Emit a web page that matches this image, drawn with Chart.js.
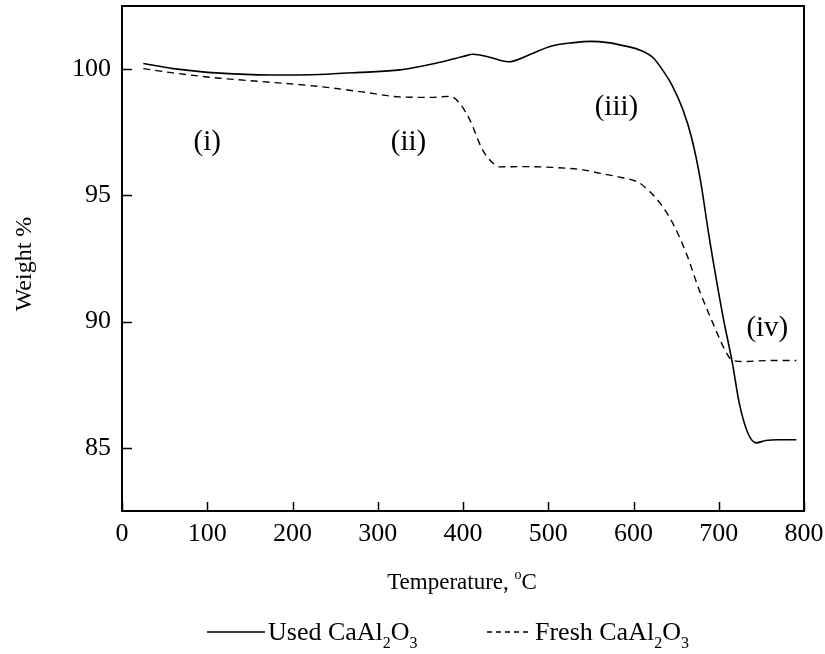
<!DOCTYPE html>
<html>
<head>
<meta charset="utf-8">
<script src="https://cdn.jsdelivr.net/npm/chart.js@4.4.0/dist/chart.umd.min.js"></script>
<style>
  html, body { margin: 0; padding: 0; background: #fff; }
  #wrap { width: 825px; height: 654px; }
</style>
</head>
<body>
<div id="wrap"><canvas id="tga" width="825" height="654"></canvas></div>
<script>
// TGA curves (temperature in C, weight in %)
var usedTemp   = [25, 60, 115, 174, 232, 279, 326, 370, 400, 412, 430, 453, 480, 502, 530, 550, 570, 584, 607, 623, 634, 646, 658, 668, 678, 689, 705, 716, 724, 734, 744, 755, 770, 791];
var usedWeight = [100.22, 100.02, 99.84, 99.77, 99.79, 99.87, 99.97, 100.25, 100.5, 100.59, 100.48, 100.29, 100.6, 100.9, 101.05, 101.1, 101.05, 100.96, 100.76, 100.45, 99.97, 99.31, 98.39, 97.3, 95.7, 93.3, 90.2, 88.36, 86.78, 85.6, 85.2, 85.29, 85.32, 85.32];

var freshTemp   = [25, 60, 115, 174, 232, 279, 326, 360, 385, 396, 408, 423, 435, 443, 470, 510, 541, 560, 580, 607, 619, 631, 646, 662, 677, 693, 709, 715, 728, 760, 791];
var freshWeight = [100.02, 99.85, 99.64, 99.48, 99.31, 99.11, 98.9, 98.88, 98.92, 98.65, 97.99, 96.8, 96.28, 96.13, 96.14, 96.1, 96.01, 95.88, 95.75, 95.49, 95.15, 94.7, 93.9, 92.7, 91.26, 89.95, 88.76, 88.49, 88.42, 88.46, 88.46];

var xTicks = [0, 100, 200, 300, 400, 500, 600, 700, 800];
var yTicks = [85, 90, 95, 100];

// region labels
var regionText = ["(i)", "(ii)", "(iii)", "(iv)"];
var regionTemp = [100, 336, 580, 757];
var regionWeight = [97.08, 97.08, 98.5, 89.74];

var serif = "'Liberation Serif', 'Times New Roman', serif";

function pts(xs, ys) {
  var out = [];
  for (var i = 0; i < xs.length; i++) out.push({x: xs[i], y: ys[i]});
  return out;
}

// text with sub/superscripts: parts = [[text, kind]], kind 0 normal, 1 sub, 2 sup
function drawRich(ctx, parts, x, y, size) {
  var small = Math.round(size * 0.62);
  for (var i = 0; i < parts.length; i++) {
    var t = parts[i][0], k = parts[i][1];
    if (k == 0) {
      ctx.font = size + "px " + serif;
      ctx.fillText(t, x, y);
    } else if (k == 1) {
      ctx.font = small + "px " + serif;
      ctx.fillText(t, x, y + size * 0.3);
    } else {
      ctx.font = small + "px " + serif;
      ctx.fillText(t, x, y - size * 0.45);
    }
    x += ctx.measureText(t).width;
  }
  return x;
}

var decorations = {
  id: 'decorations',
  afterDraw: function(chart) {
    var ctx = chart.ctx, a = chart.chartArea;
    var xs = chart.scales.x, ys = chart.scales.y;
    ctx.save();
    ctx.strokeStyle = '#000';
    ctx.fillStyle = '#000';
    ctx.lineWidth = 2;
    ctx.strokeRect(a.left, a.top, a.right - a.left, a.bottom - a.top);

    // inward tick marks
    ctx.beginPath();
    xTicks.forEach(function(v) {
      var px = Math.round(xs.getPixelForValue(v)) + 0.5;
      ctx.moveTo(px, a.bottom);
      ctx.lineTo(px, a.bottom - 9);
    });
    yTicks.forEach(function(v) {
      var py = Math.round(ys.getPixelForValue(v)) + 0.5;
      ctx.moveTo(a.left, py);
      ctx.lineTo(a.left + 10, py);
    });
    ctx.lineWidth = 1.5;
    ctx.stroke();

    // region labels
    ctx.font = "29px " + serif;
    ctx.textAlign = 'center';
    ctx.textBaseline = 'middle';
    for (var i = 0; i < regionText.length; i++) {
      ctx.fillText(regionText[i], xs.getPixelForValue(regionTemp[i]), ys.getPixelForValue(regionWeight[i]));
    }

    // y title
    ctx.save();
    ctx.translate(25, 264);
    ctx.rotate(-Math.PI / 2);
    ctx.font = "24px " + serif;
    ctx.fillText("Weight %", 0, 0);
    ctx.restore();

    // x title
    ctx.textAlign = 'left';
    ctx.textBaseline = 'alphabetic';
    var xt = [["Temperature, ", 0], ["o", 2], ["C", 0]];
    var w = 0;
    xt.forEach(function(p) {
      ctx.font = (p[1] ? Math.round(23 * 0.62) : 23) + "px " + serif;
      w += ctx.measureText(p[0]).width;
    });
    drawRich(ctx, xt, 462 - w / 2, 589, 23);

    // legend
    ctx.lineWidth = 1.5;
    ctx.beginPath();
    ctx.moveTo(207, 632);
    ctx.lineTo(265, 632);
    ctx.stroke();
    drawRich(ctx, [["Used CaAl", 0], ["2", 1], ["O", 0], ["3", 1]], 268, 640, 26);
    ctx.setLineDash([5, 4]);
    ctx.beginPath();
    ctx.moveTo(487, 632);
    ctx.lineTo(530, 632);
    ctx.stroke();
    ctx.setLineDash([]);
    drawRich(ctx, [["Fresh CaAl", 0], ["2", 1], ["O", 0], ["3", 1]], 535, 640, 26);
    ctx.restore();
  }
};

function noMargins(s) {
  s.paddingTop = 0; s.paddingBottom = 0; s.paddingLeft = 0; s.paddingRight = 0;
}

var chart = new Chart(document.getElementById('tga').getContext('2d'), {
  type: 'line',
  data: {
    datasets: [{
      label: 'Used CaAl2O3',
      data: pts(usedTemp, usedWeight),
      borderColor: '#000',
      borderWidth: 1.6,
      pointRadius: 0,
      cubicInterpolationMode: 'monotone',
      fill: false
    }, {
      label: 'Fresh CaAl2O3',
      data: pts(freshTemp, freshWeight),
      borderColor: '#000',
      borderWidth: 1.4,
      borderDash: [7, 5],
      pointRadius: 0,
      cubicInterpolationMode: 'monotone',
      fill: false
    }]
  },
  options: {
    responsive: false,
    animation: false,
    layout: { padding: { top: 6, right: 21, left: 0, bottom: 0 } },
    plugins: { legend: { display: false }, tooltip: { enabled: false } },
    scales: {
      x: {
        type: 'linear',
        min: 0, max: 800,
        afterBuildTicks: function(s) { s.ticks = xTicks.map(function(v) { return {value: v}; }); },
        afterFit: function(s) { s.height = 143; noMargins(s); },
        grid: { display: false, drawTicks: false },
        border: { display: false },
        ticks: { color: '#000', font: { family: serif, size: 26 }, padding: 8, maxRotation: 0 }
      },
      y: {
        type: 'linear',
        min: 82.5, max: 102.5,
        afterBuildTicks: function(s) { s.ticks = yTicks.map(function(v) { return {value: v}; }); },
        afterFit: function(s) { s.width = 122; noMargins(s); },
        grid: { display: false, drawTicks: false },
        border: { display: false },
        ticks: { color: '#000', font: { family: serif, size: 26 }, padding: 11 }
      }
    }
  },
  plugins: [decorations]
});
</script>
</body>
</html>
